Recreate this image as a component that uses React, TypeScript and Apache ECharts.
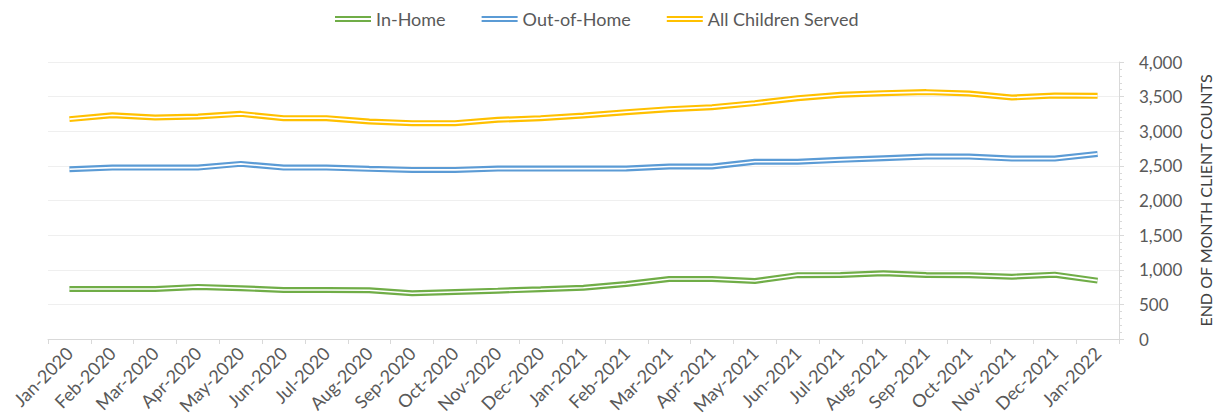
import React, { useEffect, useRef } from "react";
import * as echarts from "echarts";

const months = [
  "Jan-2020", "Feb-2020", "Mar-2020", "Apr-2020", "May-2020", "Jun-2020", "Jul-2020", "Aug-2020",
  "Sep-2020", "Oct-2020", "Nov-2020", "Dec-2020", "Jan-2021", "Feb-2021", "Mar-2021", "Apr-2021",
  "May-2021", "Jun-2021", "Jul-2021", "Aug-2021", "Sep-2021", "Oct-2021", "Nov-2021", "Dec-2021", "Jan-2022",
];

const inHome = [722, 722, 722, 752, 733, 708, 708, 705, 660, 679, 698, 718, 741, 795, 867, 867, 838, 922, 924, 949, 925, 920, 900, 929, 843];
const outOfHome = [2452, 2475, 2475, 2475, 2529, 2475, 2475, 2457, 2442, 2442, 2461, 2461, 2461, 2461, 2490, 2490, 2560, 2560, 2587, 2611, 2634, 2634, 2605, 2605, 2673];
const allChildren = [3175, 3232, 3198, 3212, 3251, 3189, 3189, 3140, 3117, 3117, 3165, 3189, 3227, 3276, 3319, 3348, 3406, 3478, 3526, 3550, 3565, 3545, 3487, 3516, 3511];

const yTicks = { min: 0, max: 4000, interval: 500 };

const seriesDefs = [
  { name: "In-Home", data: inHome, color: "#70AD47" },
  { name: "Out-of-Home", data: outOfHome, color: "#5B9BD5" },
  { name: "All Children Served", data: allChildren, color: "#FFC000" },
];

const FONT = "Lato";
const TEXT = "#595959";

export default function App() {
  const ref = useRef<HTMLDivElement>(null);
  useEffect(() => {
    document.body.style.margin = "0";
    if (!ref.current) return;
    const chart = echarts.init(ref.current, null, { renderer: "svg" });
    const series: any[] = [];
    seriesDefs.forEach((s) => {
      series.push({
        name: s.name,
        type: "line",
        data: s.data,
        symbol: "none",
        color: s.color,
        lineStyle: { color: s.color, width: 6 },
        z: 2,
      });
    });
    seriesDefs.forEach((s) => {
      series.push({
        name: s.name + " inner",
        type: "line",
        data: s.data,
        symbol: "none",
        color: "#ffffff",
        lineStyle: { color: "#ffffff", width: 1.6 },
        z: 3,
        silent: true,
      });
    });
    chart.setOption({
      animation: false,
      backgroundColor: "#ffffff",
      textStyle: { fontFamily: FONT },
      legend: {
        data: seriesDefs.map((s) => s.name),
        top: 5,
        left: 330,
        itemWidth: 36,
        itemHeight: 6,
        itemGap: 36,
        icon: "path://M0,0H36V2H0ZM0,4H36V6H0Z",
        textStyle: { color: TEXT, fontSize: 18, fontFamily: FONT },
      },
      grid: { left: 48, right: 107, top: 62, bottom: 80 },
      xAxis: {
        type: "category",
        data: months,
        boundaryGap: true,
        axisLine: { lineStyle: { color: "#d9d9d9" } },
        axisTick: { show: true, length: 5, lineStyle: { color: "#d9d9d9" } },
        axisLabel: { rotate: 45, color: TEXT, fontSize: 18, fontFamily: FONT, interval: 0, margin: 11 },
        splitLine: { show: false },
      },
      yAxis: {
        type: "value",
        position: "right",
        min: yTicks.min,
        max: yTicks.max,
        interval: yTicks.interval,
        name: "END OF MONTH CLIENT COUNTS",
        nameLocation: "middle",
        nameGap: 78,
        nameRotate: 90,
        nameTextStyle: { color: "#404040", fontSize: 16, fontFamily: FONT },
        axisLine: { show: true, lineStyle: { color: "#d9d9d9" } },
        axisTick: { show: true, length: 5, lineStyle: { color: "#d9d9d9" } },
        minorTick: { show: true, splitNumber: 5, length: 3, lineStyle: { color: "#d9d9d9" } },
        axisLabel: {
          color: TEXT,
          fontSize: 17,
          fontFamily: FONT,
          margin: 20,
          formatter: (v: number) => v.toLocaleString("en-US"),
        },
        splitLine: { lineStyle: { color: "#efefef" } },
      },
      series,
    });
    return () => chart.dispose();
  }, []);
  return <div ref={ref} style={{ width: 1226, height: 419 }} />;
}
